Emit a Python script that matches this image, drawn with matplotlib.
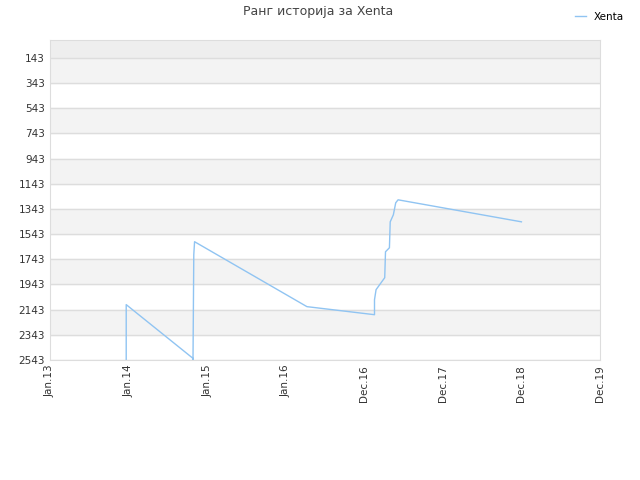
import matplotlib
matplotlib.use("Agg")
import matplotlib.pyplot as plt

years = [2013.97, 2013.97, 2014.82, 2014.82, 2014.83, 2014.84, 2016.27, 2017.13, 2017.13, 2017.15,
         2017.26, 2017.27, 2017.32, 2017.33, 2017.37, 2017.40, 2017.43, 2019.0]
ranks = [2543, 2103, 2530, 2543, 1706, 1603, 2119, 2183, 2064, 1984,
         1889, 1683, 1651, 1445, 1389, 1294, 1270, 1445]
tick_pos = [2013, 2014, 2015, 2016, 2017, 2018, 2019, 2020]
tick_labels = ["Jan.13", "Jan.14", "Jan.15", "Jan.16", "Dec.16", "Dec.17", "Dec.18", "Dec.19"]
yticks = [143, 343, 543, 743, 943, 1143, 1343, 1543, 1743, 1943, 2143, 2343, 2543]

fig = plt.figure(figsize=(6.4, 4.8), dpi=100)
ax = fig.add_axes([50/640, 120/480, 550/640, 320/480])
ax.axhspan(0, 143, color="#eeeeee", zorder=0)
for i, y in enumerate(yticks[:-1]):
    if i % 2 == 0:
        ax.axhspan(y, y + 200, color="#f3f3f3", zorder=0)
for y in yticks:
    ax.axhline(y, color="#dddddd", lw=1, zorder=1)
ax.plot(years, ranks, color="#90c4f2", lw=1, zorder=2, label="Xenta")
ax.set_xlim(2013, 2020)
ax.set_ylim(2543, 0)
ax.set_yticks(yticks)
ax.set_xticks(tick_pos)
ax.set_xticklabels(tick_labels, rotation=90)
ax.tick_params(labelsize=7.5, colors="#333333", length=0)
for s in ax.spines.values():
    s.set_color("#dddddd")
fig.text(318/640, 1 - 12/480, "Ранг историја за Xenta", ha="center", va="center", fontsize=9, color="#444444")
fig.legend(loc="upper right", bbox_to_anchor=(0.99, 0.995), frameon=False, fontsize=7.5, handlelength=1)
fig.savefig("out.png")
